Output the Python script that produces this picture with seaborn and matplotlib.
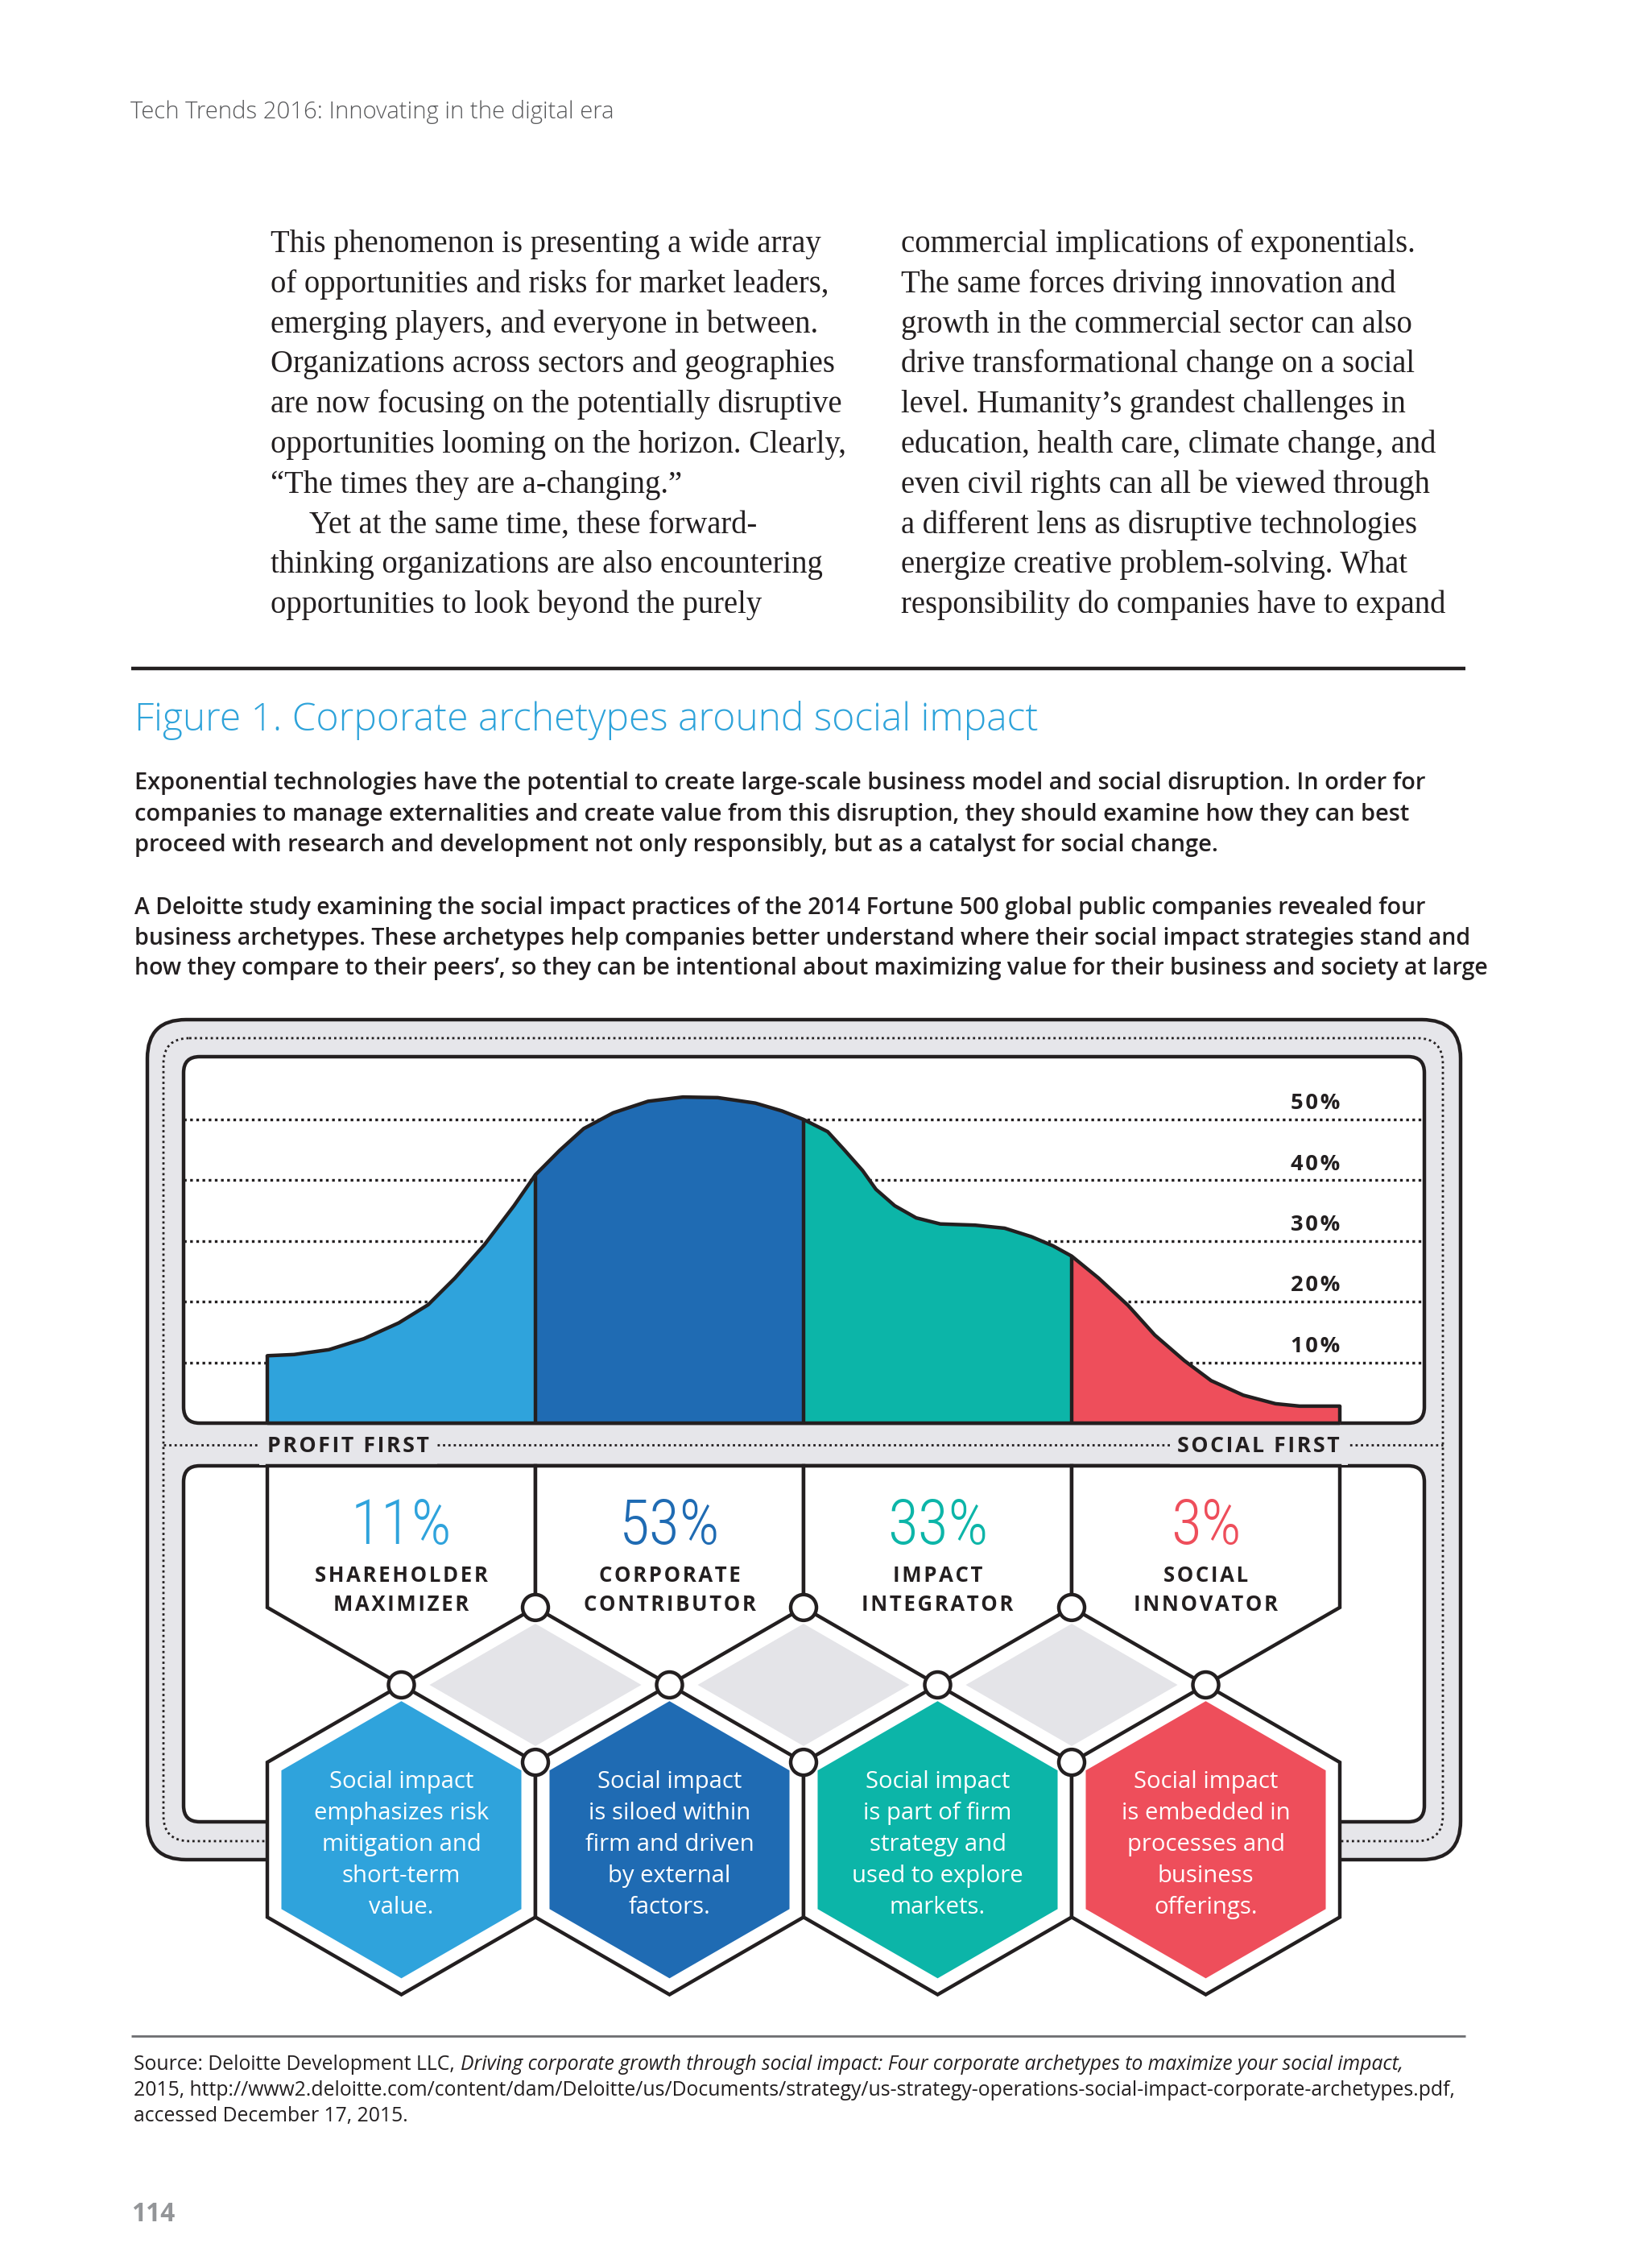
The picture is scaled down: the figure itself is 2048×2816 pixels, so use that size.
import os
import numpy as np
import matplotlib
matplotlib.use("Agg")
import matplotlib.pyplot as plt
import seaborn as sns
from matplotlib import font_manager as fm
from matplotlib.patches import FancyBboxPatch, Polygon, Circle

# ------------------------------------------------------------------ data
ARCHETYPES = [("SHAREHOLDER", "MAXIMIZER"), ("CORPORATE", "CONTRIBUTOR"),
              ("IMPACT", "INTEGRATOR"), ("SOCIAL", "INNOVATOR")]
SHARES = [11, 53, 33, 3]
COLORS = ["#2FA3DC", "#1F6BB3", "#0CB5A8", "#EE4E5B"]
DESCRIPTIONS = [
    ["Social impact", "emphasizes risk", "mitigation and", "short-term", "value."],
    ["Social impact", "is siloed within", "firm and driven", "by external", "factors."],
    ["Social impact", "is part of firm", "strategy and", "used to explore", "markets."],
    ["Social impact", "is embedded in", "processes and", "business", "offerings."],
]
GRID_PCT = [10, 20, 30, 40, 50]
AXIS_ENDS = ["PROFIT FIRST", "SOCIAL FIRST"]
# curve: position along the four archetype bands, share (%)
CURVE_X = [0.00, 0.10, 0.23, 0.36, 0.49, 0.60, 0.70, 0.81, 0.92,
           1.00, 1.09, 1.18, 1.29, 1.42, 1.55, 1.68, 1.82, 1.92,
           2.00, 2.09, 2.15, 2.22, 2.27, 2.34, 2.42, 2.51, 2.64, 2.75, 2.85, 2.93,
           3.00, 3.10, 3.21, 3.31, 3.42, 3.52, 3.64, 3.76, 3.85, 4.00]
CURVE_Y = [11.1, 11.3, 12.1, 13.9, 16.5, 19.5, 23.9, 29.4, 35.8,
           40.9, 44.9, 48.5, 51.1, 53.0, 53.7, 53.6, 52.7, 51.4,
           50.0, 48.0, 45.1, 41.6, 38.5, 35.8, 33.8, 32.8, 32.6, 32.1, 30.7, 29.2,
           27.5, 23.9, 19.4, 14.5, 10.3, 7.0, 4.6, 3.2, 2.8, 2.8]

HEADER = "Tech Trends 2016: Innovating in the digital era"
LEFT_COL = [
    "This phenomenon is presenting a wide array",
    "of opportunities and risks for market leaders,",
    "emerging players, and everyone in between.",
    "Organizations across sectors and geographies",
    "are now focusing on the potentially disruptive",
    "opportunities looming on the horizon. Clearly,",
    "\u201cThe times they are a-changing.\u201d",
    "Yet at the same time, these forward-",
    "thinking organizations are also encountering",
    "opportunities to look beyond the purely",
]
RIGHT_COL = [
    "commercial implications of exponentials.",
    "The same forces driving innovation and",
    "growth in the commercial sector can also",
    "drive transformational change on a social",
    "level. Humanity\u2019s grandest challenges in",
    "education, health care, climate change, and",
    "even civil rights can all be viewed through",
    "a different lens as disruptive technologies",
    "energize creative problem-solving. What",
    "responsibility do companies have to expand",
]
TITLE = "Figure 1. Corporate archetypes around social impact"
INTRO_1 = [
    "Exponential technologies have the potential to create large-scale business model and social disruption. In order for",
    "companies to manage externalities and create value from this disruption, they should examine how they can best",
    "proceed with research and development not only responsibly, but as a catalyst for social change.",
]
INTRO_2 = [
    "A Deloitte study examining the social impact practices of the 2014 Fortune 500 global public companies revealed four",
    "business archetypes. These archetypes help companies better understand where their social impact strategies stand and",
    "how they compare to their peers\u2019, so they can be intentional about maximizing value for their business and society at large",
]
SOURCE_PLAIN = "Source: Deloitte Development LLC,"
SOURCE_ITALIC = ("Driving corporate growth through social impact: Four corporate "
                 "archetypes to maximize your social impact,")
SOURCE_REST = [
    "2015, http://www2.deloitte.com/content/dam/Deloitte/us/Documents/strategy/"
    "us-strategy-operations-social-impact-corporate-archetypes.pdf,",
    "accessed December 17, 2015.",
]
PAGE_NO = "114"

# ------------------------------------------------------------------ style
INK = "#231F20"
BOX_GRAY = "#E6E6EA"
TITLE_BLUE = "#2EA3DA"
W, H = 2048, 2816
LW = 3.2

sns.set_style("white")
plt.rcParams["font.family"] = ["Open Sans", "DejaVu Sans"]
SERIF = ["Liberation Serif", "DejaVu Serif"]


def pick_condensed():
    wanted = ["RobotoCondensed-Light", "OpenSans-CondLight", "OpenSansCondensed-Light",
              "RobotoCondensed-Regular", "DejaVuSansCondensed.ttf",
              "LiberationSansNarrow-Regular"]
    files = [f.fname for f in fm.fontManager.ttflist]
    for key in wanted:
        for fn in files:
            if key in os.path.basename(fn):
                return fm.FontProperties(fname=fn)
    return fm.FontProperties(family="DejaVu Sans")


COND = pick_condensed()


def track(s):
    return "\u200a".join(s)


fig = plt.figure(figsize=(W / 100, H / 100), dpi=100)
fig.patch.set_facecolor("white")
page = fig.add_axes([0, 0, 1, 1])
page.set_xlim(0, W)
page.set_ylim(H, 0)
page.axis("off")
renderer = fig.canvas.get_renderer()


def fit_size(s, width, **kw):
    t = page.text(0, 0, s, fontsize=20, **kw)
    w = t.get_window_extent(renderer).width
    t.remove()
    return 20 * width / w


def to_fig(l, t, r, b):
    return [l / W, 1 - b / H, (r - l) / W, (b - t) / H]


# ------------------------------------------------------------------ page text
fs = fit_size(HEADER, 600, fontweight="light")
page.text(162, 147, HEADER, fontsize=fs, fontweight="light", color="#58595B", va="baseline")

fs_serif = fit_size(LEFT_COL[1], 695, family=SERIF)
for k, line in enumerate(LEFT_COL):
    page.text(384 if k == 7 else 336, 313 + 49.8 * k, line, family=SERIF,
              fontsize=fs_serif, color=INK, va="baseline")
for k, line in enumerate(RIGHT_COL):
    page.text(1119, 313 + 49.8 * k, line, family=SERIF,
              fontsize=fs_serif, color=INK, va="baseline")

page.plot([163, 1820], [830, 830], color=INK, lw=3.2, solid_capstyle="butt")

fs = fit_size(TITLE, 1126, fontweight="light")
page.text(167, 907, TITLE, fontsize=fs, fontweight="light", color=TITLE_BLUE, va="baseline")

fs_intro = fit_size(INTRO_1[0], 1601, fontweight="semibold")
for k, line in enumerate(INTRO_1):
    page.text(167, 980 + 38.5 * k, line, fontsize=fs_intro, fontweight="semibold",
              color=INK, va="baseline")
fs_intro2 = fit_size(INTRO_2[1], 1655, fontweight="semibold")
for k, line in enumerate(INTRO_2):
    page.text(167, 1135 + 37.5 * k, line, fontsize=fs_intro2, fontweight="semibold",
              color=INK, va="baseline")

# ------------------------------------------------------------------ frame
page.add_patch(FancyBboxPatch((183, 1266), 1631, 1043,
                              boxstyle="round,pad=0,rounding_size=48",
                              fc=BOX_GRAY, ec=INK, lw=LW))
page.add_patch(FancyBboxPatch((203, 1289), 1589, 997,
                              boxstyle="round,pad=0,rounding_size=32",
                              fc="none", ec=INK, lw=2.0, ls=(0, (1, 1.4))))
page.plot([203, 1792], [1794, 1794], color=INK, lw=2.0, ls=(0, (1, 1.4)))
for top, bottom in [(1312, 1767), (1820, 2262)]:
    page.add_patch(FancyBboxPatch((228, top), 1541, bottom - top,
                                  boxstyle="round,pad=0,rounding_size=20",
                                  fc="white", ec=INK, lw=LW))

fs_end = fit_size(track(AXIS_ENDS[0]), 201, fontweight="bold")
for label, x, ha in zip(AXIS_ENDS, [332, 1664], ["left", "right"]):
    page.text(x, 1803, track(label), ha=ha, va="baseline", fontsize=fs_end,
              fontweight="bold", color=INK,
              bbox=dict(fc=BOX_GRAY, ec="none", pad=7))

# ------------------------------------------------------------------ area chart
X0, BAND = 332, 333          # left edge of first band, band width (px)
Y0, PX_PCT = 1767, 7.54      # baseline (px), pixels per percent
L, R = 228, 1769

chart = fig.add_axes(to_fig(L, 1312, R, Y0))
chart.set_xlim((L - X0) / BAND, (R - X0) / BAND)
chart.set_ylim(0, (Y0 - 1312) / PX_PCT)
chart.axis("off")
chart.set_facecolor("none")

cx = np.array(CURVE_X)
cy = np.array(CURVE_Y)
for g in GRID_PCT:
    chart.axhline(g, color=INK, lw=2.4, ls=(0, (1, 1.3)), zorder=1)
fs_tick = fit_size(track("50%"), 61, fontweight="bold")
for g in GRID_PCT:
    chart.text(4, g + 1.7, track(f"{g}%"), ha="right", va="baseline",
               fontsize=fs_tick, fontweight="bold", color=INK, zorder=1)

for i, col in enumerate(COLORS):
    m = (cx >= i) & (cx <= i + 1)
    chart.fill_between(cx[m], 0, cy[m], color=col, lw=0, zorder=2)
sns.lineplot(x=cx, y=cy, ax=chart, color=INK, lw=LW, sort=False, zorder=3,
             legend=False, solid_joinstyle="round")
edges = np.arange(len(SHARES) + 1)
tops = [cy[cx == e][0] for e in edges]
chart.vlines(edges, 0, tops, colors=INK, lw=LW, zorder=3, clip_on=False)
chart.hlines(0, 0, len(SHARES), colors=INK, lw=LW, zorder=3, clip_on=False)

# ------------------------------------------------------------------ hexagon ladder
HB = 2500
hx = fig.add_axes(to_fig(L, 1820, R, HB))
hx.set_xlim((L - X0) / BAND, (R - X0) / BAND)
hx.set_ylim((HB - 1820) / BAND, 0)
hx.axis("off")
hx.set_facecolor("none")

R_HEX = 0.5 / np.cos(np.pi / 6)
TOP_NODE = (2092 - 1820) / BAND
YC = TOP_NODE + R_HEX
NODE_R = 16 / BAND


def hexagon(x, y, r):
    a = np.deg2rad([90, 30, -30, -90, -150, 150])
    return np.c_[x + r * np.cos(a), y - r * np.sin(a)]


def px(v):
    return (v - 1820) / BAND


fs_desc = fit_size(DESCRIPTIONS[0][1], 217)
fs_name = fit_size(track(ARCHETYPES[0][0]), 214, fontweight="bold")

for i, (col, share) in enumerate(zip(COLORS, SHARES)):
    c = i + 0.5
    pent = [(i, 0), (i + 1, 0), (i + 1, YC - 1.5 * R_HEX), (c, YC - R_HEX),
            (i, YC - 1.5 * R_HEX)]
    hx.add_patch(Polygon(pent, closed=True, fc="white", ec=INK, lw=LW,
                         joinstyle="miter", zorder=1, clip_on=False))
    hx.add_patch(Polygon(hexagon(c, YC, R_HEX), closed=True, fc="white", ec=INK,
                         lw=LW, joinstyle="miter", zorder=2, clip_on=False))
    hx.add_patch(Polygon(hexagon(c, YC, R_HEX * 0.895), closed=True, fc=col,
                         ec="none", zorder=3, clip_on=False))

    hx.text(c, px(1917), f"{share}%", fontproperties=COND, fontsize=56,
            color=col, ha="center", va="baseline", zorder=6)
    for k, word in enumerate(ARCHETYPES[i]):
        hx.text(c, px(1964 + 36 * k), track(word), fontsize=fs_name,
                fontweight="bold", color=INK, ha="center", va="baseline", zorder=6)
    for k, line in enumerate(DESCRIPTIONS[i]):
        hx.text(c, px(2220 + 38.9 * k), line, fontsize=fs_desc, color="white",
                ha="center", va="baseline", zorder=6)
    hx.add_patch(Circle((c, YC - R_HEX), NODE_R, fc="white", ec=INK, lw=LW,
                        zorder=5, clip_on=False))

for e in range(1, len(SHARES)):
    dx, dy = 0.5 * 0.79, 0.5 * R_HEX * 0.79
    yd = YC - R_HEX
    hx.add_patch(Polygon([(e - dx, yd), (e, yd - dy), (e + dx, yd), (e, yd + dy)],
                         closed=True, fc="#E4E4E8", ec="none", zorder=3,
                         clip_on=False))
    for yn in (YC - 1.5 * R_HEX, YC - 0.5 * R_HEX):
        hx.add_patch(Circle((e, yn), NODE_R, fc="white", ec=INK, lw=LW,
                            zorder=5, clip_on=False))

# ------------------------------------------------------------------ source
page.plot([163, 1820], [2528, 2528], color="#6D6E71", lw=2.0, solid_capstyle="butt")
fs_src = fit_size(SOURCE_REST[0], 1632)
t1 = page.text(166, 2570, SOURCE_PLAIN, fontsize=fs_src, color=INK, va="baseline")
x_end = t1.get_window_extent(renderer).x1
page.text(x_end + 7, 2570, SOURCE_ITALIC, fontsize=fs_src, style="italic",
          color=INK, va="baseline")
for k, line in enumerate(SOURCE_REST):
    page.text(166, 2602 + 32 * k, line, fontsize=fs_src, color=INK, va="baseline")

fs = fit_size(PAGE_NO, 54, fontweight="bold")
page.text(163, 2758, PAGE_NO, fontsize=fs, fontweight="bold", color="#939598",
          va="baseline")

fig.savefig("out.png", dpi=100, facecolor="white")
